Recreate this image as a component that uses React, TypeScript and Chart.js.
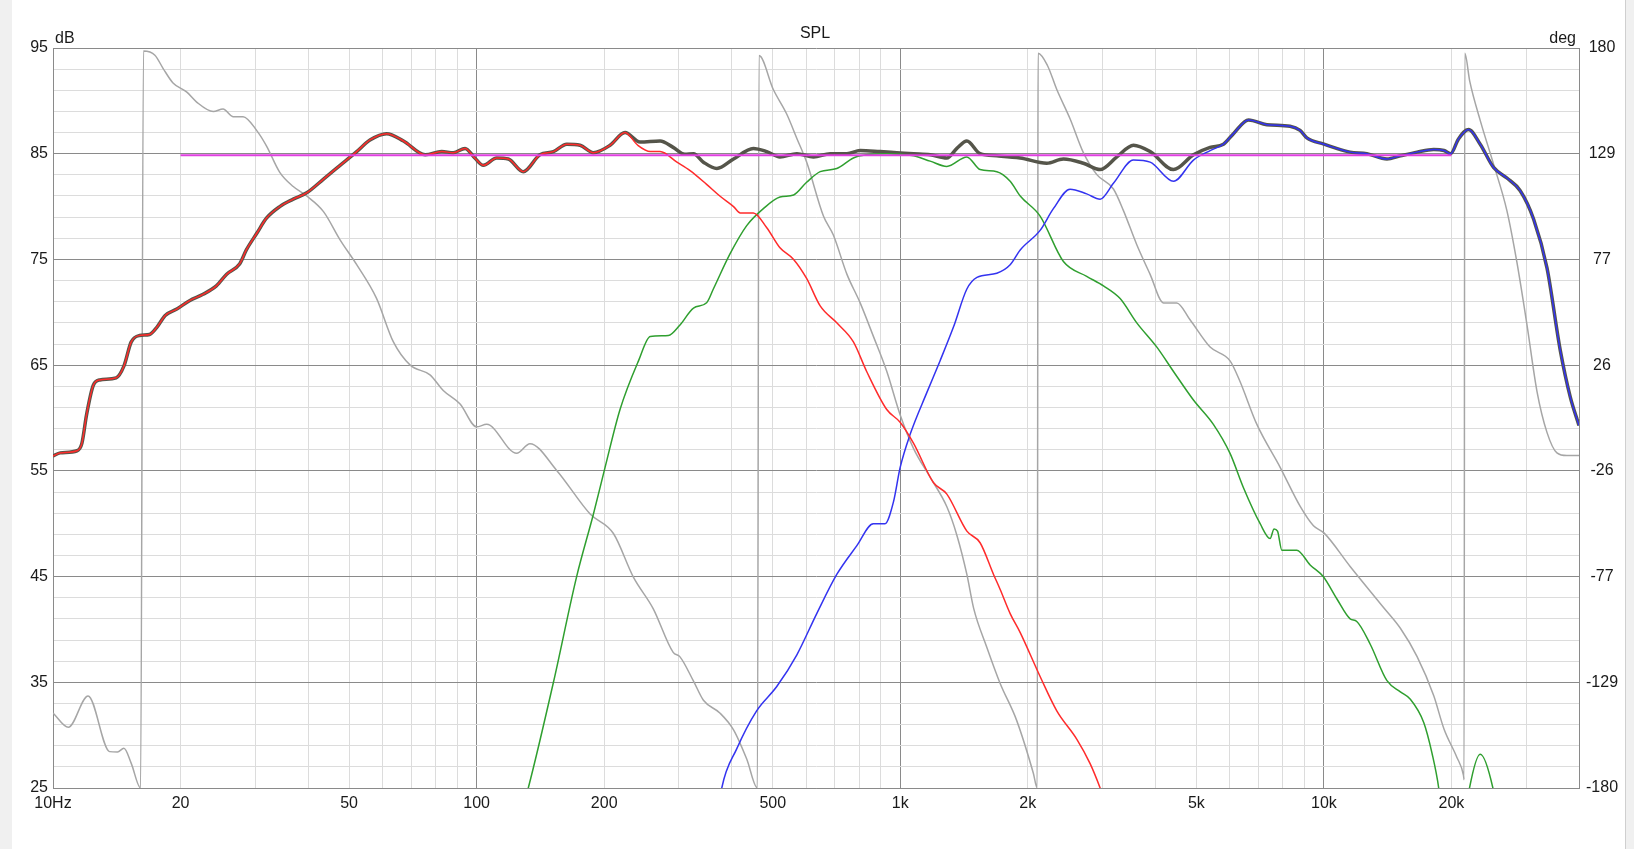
import React, { useEffect, useRef } from 'react';
import { Chart, registerables } from 'chart.js';

Chart.register(...registerables);

// ---- tick labels ----
const freqTickValues = [10, 20, 50, 100, 200, 500, 1000, 2000, 5000, 10000, 20000];
const freqTickLabels = ['10Hz', '20', '50', '100', '200', '500', '1k', '2k', '5k', '10k', '20k'];
const dbLabelValues = [95, 85, 75, 65, 55, 45, 35, 25];
const phaseTickValues = [180, 128.57, 77.14, 25.71, -25.71, -77.14, -128.57, -180];

// ---- series (frequency Hz, dB) ----
const totalResponse: [number, number][] = [
  [10, 56.4], [10.4, 56.7], [11.4, 56.9], [11.7, 57.6], [12.0, 60.3], [12.45, 63.1], [12.9, 63.6],
  [14.1, 63.8], [14.7, 64.9], [15.3, 67.2], [16.0, 67.8], [16.9, 67.9], [17.6, 68.6], [18.4, 69.7],
  [19.6, 70.3], [21.0, 71.1], [22.6, 71.7], [24.3, 72.5], [25.7, 73.6], [27.6, 74.6], [28.6, 75.9],
  [30.3, 77.5], [31.9, 78.9], [34.3, 80.0], [36.9, 80.7], [39.7, 81.3], [43.5, 82.6], [47.6, 83.9],
  [52.1, 85.2], [56, 86.3], [61.3, 86.9], [67.2, 86.2], [75.6, 84.9], [82.7, 85.2], [88.1, 85.1],
  [93.9, 85.5], [99, 84.6], [103.7, 83.9], [111.5, 84.6], [118.8, 84.5], [128.9, 83.3], [141, 84.9],
  [151.8, 85.2], [163.2, 85.9], [175.4, 85.8], [188.6, 85.1], [206.5, 85.8], [224, 87.0], [243, 86.1],
  [271, 86.2], [291, 85.6], [310, 84.95], [325, 85.0], [343, 84.2], [369, 83.6], [404, 84.5],
  [450, 85.5], [484, 85.2], [520, 84.7], [570, 85.0], [624, 84.7], [683, 85.0], [748, 85.0],
  [804, 85.3], [896, 85.2], [981, 85.1], [1075, 85.0], [1176, 84.9], [1288, 84.6], [1360, 85.5],
  [1436, 86.2], [1543, 85.0], [1690, 84.8], [1919, 84.6], [2217, 84.1], [2427, 84.5], [2705, 84.1],
  [2963, 83.5], [3245, 84.7], [3551, 85.8], [3888, 85.2], [4414, 83.5], [4920, 84.9], [5387, 85.6],
  [5792, 85.9], [6115, 86.9], [6637, 88.2], [7333, 87.75], [8318, 87.6], [8785, 87.2], [9113, 86.5],
  [10000, 85.9], [10532, 85.6], [11531, 85.15], [12627, 85.0], [14086, 84.5], [15151, 84.8],
  [16592, 85.15], [18156, 85.4], [19203, 85.3], [19910, 85.0], [20780, 86.4], [21940, 87.3],
  [23380, 85.9], [25140, 83.7], [27030, 82.7], [29060, 81.5], [31260, 78.8], [33610, 74.2],
  [36130, 66.4], [38140, 62.0], [40000, 59.3],
];

const wooferTail: [number, number][] = [
  [240, 85.8], [257, 85.2], [271, 85.2], [297, 84.2], [319, 83.4], [349, 82.1], [375, 81.0],
  [404, 80.0], [419, 79.4], [450, 79.4], [484, 78.0], [520, 76.1], [560, 75.0], [601, 73.2],
  [647, 70.6], [708, 69.0], [775, 67.2], [833, 64.4], [929, 60.8], [999, 59.6], [1075, 57.6],
  [1197, 53.9], [1288, 52.8], [1436, 49.3], [1543, 48.2], [1660, 45.2], [1720, 43.8], [1817, 41.5],
  [1919, 39.7], [2138, 35.55], [2341, 32.3], [2611, 29.6], [2806, 27.3], [2963, 25.0], [3150, 22.0],
];

const midrange: [number, number][] = [
  [125, 21.5], [132.4, 25], [151.8, 35], [172.2, 45], [188.6, 50.9], [200.9, 55.3], [218, 60.8],
  [241, 65.4], [257, 67.7], [283.5, 67.8], [302, 68.8], [325, 70.4], [349, 70.9], [362, 72.2],
  [396, 75.5], [434, 78.2], [475, 79.8], [520, 80.9], [560, 81.1], [601, 82.3], [647, 83.3],
  [708, 83.6], [775, 84.6], [833, 84.9], [929, 85.0], [1075, 84.8], [1176, 84.3], [1288, 83.8],
  [1436, 84.7], [1543, 83.5], [1690, 83.3], [1817, 82.4], [1919, 81.0], [2138, 79.1], [2427, 74.8],
  [2754, 73.4], [3017, 72.5], [3303, 71.3], [3616, 69.0], [4033, 66.7], [4414, 64.4], [4920, 61.7],
  [5483, 59.4], [6003, 56.65], [6457, 53.4], [7070, 50.0], [7463, 48.6], [7627, 49.5], [7770, 49.3],
  [7954, 47.5], [8627, 47.5], [9277, 46.1], [9960, 45.0], [10723, 42.9], [11531, 41.0],
  [11954, 40.75], [12860, 38.6], [14086, 35.15], [15151, 34.1], [15995, 33.4], [17200, 31.2],
  [17990, 28.3], [18660, 25.0], [19400, 19.0], [21000, 19.0], [22060, 25.0], [23380, 28.2],
  [25050, 25.0], [26000, 21.0],
];

const tweeterRise: [number, number][] = [
  [370, 22], [379, 25], [411, 28.7], [458, 32.3], [511, 34.6], [570, 37.6], [635, 41.5], [708, 45.2],
  [789, 47.9], [864, 50.0], [920, 50.0], [964, 52.1], [999, 55.3], [1056, 58.5], [1155, 62.4],
  [1241, 65.4], [1335, 68.6], [1436, 72.2], [1517, 73.3], [1690, 73.7], [1817, 74.5], [1919, 75.9],
  [2138, 77.75], [2298, 79.8], [2516, 81.65], [2754, 81.2], [2963, 80.7], [3185, 82.2], [3551, 84.4],
  [3888, 84.2], [4414, 82.4], [4920, 84.4], [5387, 85.3],
];

const targetLine: [number, number][] = [[20, 84.85], [20000, 84.85]];

// phase (Hz, degrees)
const phase: [number, number][] = [
  [10, -143.5], [10.87, -150.5], [12.1, -135.2], [13.6, -162.3], [14.2, -162.5], [14.7, -160.7],
  [15.3, -168], [16.1, -180], [16.35, 178.5], [17.4, 176.5], [18.2, 170], [19.2, 163], [20.7, 158.5],
  [21.8, 153.8], [23.9, 149.1], [25.2, 150.3], [26.6, 146.6], [28.1, 146.6], [30.3, 139.7],
  [31.9, 132.4], [34.3, 119.5], [36.9, 112.6], [39.7, 108], [43.5, 100.4], [47.6, 86.7], [52.1, 74.6],
  [58, 58.3], [63.6, 37], [69.7, 25.7], [77.6, 21], [83.4, 13.4], [91.4, 6.8], [100, -4.3],
  [105.6, -3.1], [124.3, -17.2], [133.6, -12.5], [154.5, -25.5], [185.3, -46.7], [210.3, -56.2],
  [234.4, -77.4], [261, -92.7], [291, -114], [302, -116.2], [325, -128], [343, -137.3], [375, -143.5],
  [404, -151.7], [434, -165.9], [460, -180], [464, 176.3], [501.5, 159.8], [539, 148], [570, 136],
  [601, 124.5], [658.5, 98.3], [695, 89], [748, 70], [804, 56], [864, 39.7], [929, 22.7], [999, 1.6],
  [1075, -14.9], [1176, -28.8], [1288, -43.2], [1360, -57], [1436, -76.1], [1490, -92.6],
  [1601, -111.6], [1720, -129], [1882, -147.1], [2061, -172.8], [2105, -180], [2115, 177.4],
  [2225, 171.5], [2341, 159.8], [2516, 145.6], [2705, 129.1], [2910, 118.4], [3185, 111.4],
  [3363, 100.9], [3616, 84.3], [3888, 69.9], [4181, 56], [4494, 56], [4830, 47.8], [5387, 34.5],
  [6003, 27.8], [6330, 18], [6941, -3], [7882, -24], [8790, -43], [9447, -52.4], [10000, -55.9],
  [11531, -72.2], [13840, -92.3], [15151, -102.3], [16592, -116.1], [18156, -135], [19203, -151.3],
  [20590, -165], [21350, -173.8], [21420, -176], [21500, 177.4], [22100, 163.6], [23380, 144.8],
  [25140, 123.5], [27030, 100.9], [28540, 75.8], [30130, 45.7], [31830, 13], [33610, -7],
  [35480, -17], [37460, -18.3], [40000, -18.3],
];

const FONT = '"Liberation Sans", Arial, sans-serif';
const TEXT_COLOR = '#1a1a1a';
const MAJOR_GRID = '#8a8a8a';
const MINOR_GRID = '#dcdcdc';

const toXY = (arr: [number, number][]) => arr.map(([x, y]) => ({ x, y }));

const gridFreqs: number[] = [];
for (const dec of [10, 100, 1000, 10000]) {
  for (let m = 1; m <= 9; m++) {
    const v = m * dec;
    if (v <= 40000) gridFreqs.push(v);
  }
}
const dbGrid: number[] = [];
for (let v = 25; v <= 95; v += 2) dbGrid.push(v);

const textPlugin = {
  id: 'extraText',
  afterDraw(chart: any) {
    const ctx = chart.ctx;
    ctx.save();
    ctx.font = `16px ${FONT}`;
    ctx.fillStyle = TEXT_COLOR;
    ctx.textBaseline = 'alphabetic';
    ctx.textAlign = 'center';
    ctx.fillText('SPL', 815, 37.5);
    ctx.textAlign = 'left';
    ctx.fillText('dB', 55, 42.5);
    ctx.textAlign = 'right';
    ctx.fillText('deg', 1576, 42.5);
    ctx.restore();
  },
};

export default function App() {
  const canvasRef = useRef<HTMLCanvasElement | null>(null);

  useEffect(() => {
    document.body.style.margin = '0';
    const canvas = canvasRef.current;
    if (!canvas) return;

    const wooferData = [...totalResponse.filter(([f]) => f <= 230), ...wooferTail];
    const tweeterData = [...tweeterRise, ...totalResponse.filter(([f]) => f >= 5700)];

    const common = { pointRadius: 0, cubicInterpolationMode: 'monotone' as const, fill: false };

    const chart = new Chart(canvas, {
      type: 'line',
      data: {
        datasets: [
          { ...common, label: 'Target', data: toXY(targetLine), borderColor: '#e040e0', borderWidth: 2, yAxisID: 'y', order: 0 },
          { ...common, label: 'Woofer', data: toXY(wooferData), borderColor: '#ff2b2b', borderWidth: 1.5, yAxisID: 'y', order: 1 },
          { ...common, label: 'Tweeter', data: toXY(tweeterData), borderColor: '#3333f0', borderWidth: 1.5, yAxisID: 'y', order: 2 },
          { ...common, label: 'Midrange', data: toXY(midrange), borderColor: '#2f9f2f', borderWidth: 1.5, yAxisID: 'y', order: 3 },
          { ...common, label: 'Total', data: toXY(totalResponse), borderColor: '#55554a', borderWidth: 3.5, yAxisID: 'y', order: 4 },
          { ...common, label: 'Phase', data: toXY(phase), borderColor: '#a6a6a6', borderWidth: 1.5, yAxisID: 'y1', order: 5 },
        ],
      },
      options: {
        responsive: false,
        animation: false,
        layout: { padding: { top: 48, left: 0, right: 0, bottom: 0 } },
        plugins: {
          legend: { display: false },
          title: { display: false },
          tooltip: { enabled: false },
        },
        events: [],
        scales: {
          x: {
            type: 'logarithmic',
            min: 10,
            max: 40000,
            afterBuildTicks: (scale: any) => {
              scale.ticks = gridFreqs.map((v) => ({ value: v }));
            },
            afterFit: (scale: any) => {
              scale.height = 61;
            },
            grid: {
              color: (ctx: any) => {
                const v = ctx.tick ? ctx.tick.value : 0;
                const l = Math.log10(v);
                return Math.abs(l - Math.round(l)) < 1e-6 ? MAJOR_GRID : MINOR_GRID;
              },
              lineWidth: 1,
              drawTicks: false,
            },
            border: { display: true, color: MAJOR_GRID, width: 1 },
            ticks: {
              autoSkip: false,
              maxRotation: 0,
              minRotation: 0,
              padding: 6,
              color: TEXT_COLOR,
              font: { family: FONT, size: 16 },
              callback: (value: any) => {
                const i = freqTickValues.indexOf(Number(value));
                return i >= 0 ? freqTickLabels[i] : '';
              },
            },
          },
          y: {
            type: 'linear',
            position: 'left',
            min: 25,
            max: 95,
            afterBuildTicks: (scale: any) => {
              scale.ticks = dbGrid.map((v) => ({ value: v }));
            },
            afterFit: (scale: any) => {
              scale.width = 53;
            },
            grid: {
              color: (ctx: any) => {
                const v = ctx.tick ? ctx.tick.value : 0;
                return dbLabelValues.includes(v) ? MAJOR_GRID : MINOR_GRID;
              },
              lineWidth: 1,
              drawTicks: false,
            },
            border: { display: true, color: MAJOR_GRID, width: 1 },
            ticks: {
              autoSkip: false,
              padding: 5,
              color: TEXT_COLOR,
              font: { family: FONT, size: 16 },
              callback: (value: any) => (dbLabelValues.includes(Number(value)) ? String(value) : ''),
            },
          },
          y1: {
            type: 'linear',
            position: 'right',
            min: -180,
            max: 180,
            afterBuildTicks: (scale: any) => {
              scale.ticks = phaseTickValues.map((v) => ({ value: v }));
            },
            afterFit: (scale: any) => {
              scale.width = 55;
            },
            grid: { display: false, drawTicks: false },
            border: { display: true, color: MAJOR_GRID, width: 1 },
            ticks: {
              autoSkip: false,
              padding: 7,
              crossAlign: 'center',
              color: TEXT_COLOR,
              font: { family: FONT, size: 16 },
              callback: (value: any) => String(Math.round(Number(value))),
            },
          },
        },
      } as any,
      plugins: [textPlugin],
    });

    return () => chart.destroy();
  }, []);

  return (
    <div style={{ position: 'absolute', left: 0, top: 0, width: 1634, height: 849, background: '#ffffff', overflow: 'hidden' }}>
      <div style={{ position: 'absolute', left: 0, top: 0, width: 12, height: 849, background: '#f0f0f0' }} />
      <div style={{ position: 'absolute', left: 1625, top: 0, width: 9, height: 849, background: '#f0f0f0', borderLeft: '1px solid #cfcfcf', boxSizing: 'border-box' }} />
      <canvas ref={canvasRef} width={1634} height={849} style={{ position: 'absolute', left: 0, top: 0 }} />
    </div>
  );
}
